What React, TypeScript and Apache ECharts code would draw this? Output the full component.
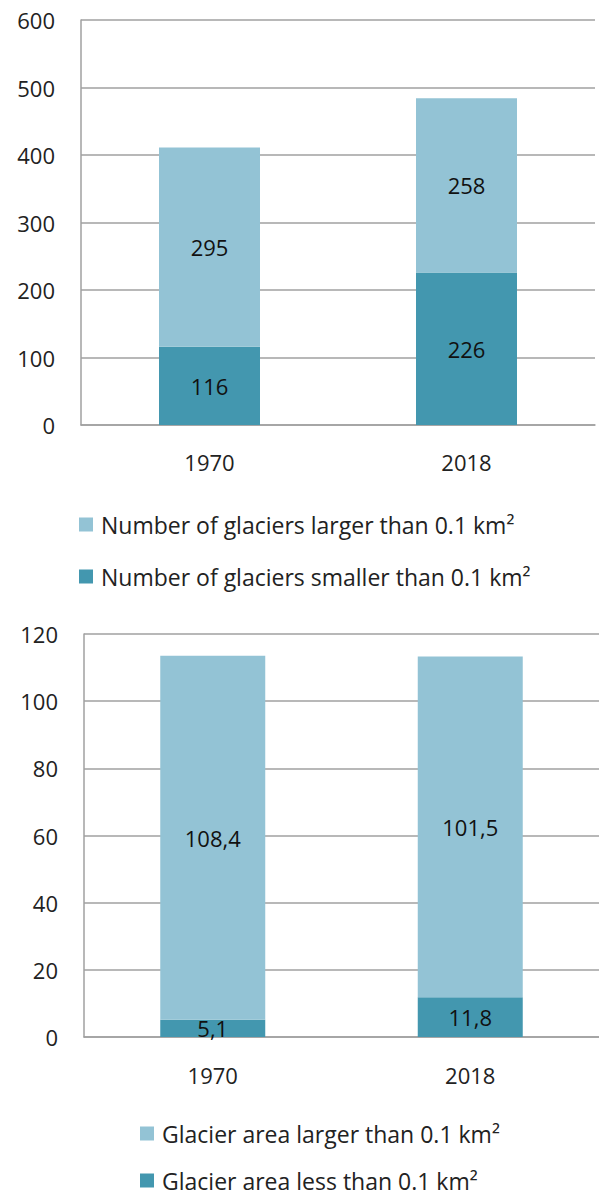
import React, { useEffect, useRef } from "react";
import * as echarts from "echarts";

const categories = ["1970", "2018"];
const countLarger = [295, 258];
const countSmaller = [116, 226];
const areaLarger = [108.4, 101.5];
const areaSmaller = [5.1, 11.8];
const countTicks = { min: 0, max: 600, interval: 100 };
const areaTicks = { min: 0, max: 120, interval: 20 };
const countNames = ["Number of glaciers larger than 0.1 km²", "Number of glaciers smaller than 0.1 km²"];
const areaNames = ["Glacier area larger than 0.1 km²", "Glacier area less than 0.1 km²"];

const LIGHT = "#93C3D5";
const DARK = "#4397AF";
const GRID = "#a0a0a0";
const FONT = "Open Sans";
const FS = 22;

const comma = (v: number) => String(v).replace(".", ",");

export default function App() {
  const ref = useRef<HTMLDivElement>(null);
  useEffect(() => {
    const chart = echarts.init(ref.current!, null, { renderer: "svg" });
    const labelStyle = {
      show: true,
      position: "inside" as const,
      color: "#111",
      fontFamily: FONT,
      fontSize: FS,
    };
    const axisLabel = { color: "#222", fontFamily: FONT, fontSize: FS };
    const legendItem = (name: string, left: number, top: number) => ({
      orient: "vertical",
      left,
      top,
      padding: 0,
      itemWidth: 14,
      itemHeight: 14,
      icon: "rect",
      data: [name],
      textStyle: { color: "#222", fontFamily: FONT, fontSize: 23, lineHeight: 22, padding: [0, 0, 0, 3] },
    });
    chart.setOption({
      animation: false,
      backgroundColor: "#fff",
      grid: [
        { left: 81, top: 20, width: 514, height: 405 },
        { left: 84, top: 634, width: 522, height: 403 },
      ],
      xAxis: [0, 1].map((i) => ({
        type: "category",
        gridIndex: i,
        data: categories,
        axisLine: { lineStyle: { color: GRID, width: 1.5 } },
        axisTick: { show: false },
        axisLabel: { ...axisLabel, margin: i === 0 ? 26 : 27 },
      })),
      yAxis: [
        { ...countTicks, gridIndex: 0 },
        { ...areaTicks, gridIndex: 1 },
      ].map((t) => ({
        type: "value",
        ...t,
        axisLine: { show: true, lineStyle: { color: GRID, width: 1.5 } },
        axisTick: { show: false },
        splitLine: { lineStyle: { color: GRID, width: 1.5 } },
        axisLabel: { ...axisLabel, margin: 26 },
      })),
      legend: [
        legendItem(countNames[0], 79, 513),
        legendItem(countNames[1], 79, 565),
        legendItem(areaNames[0], 140, 1122),
        legendItem(areaNames[1], 140, 1169),
      ],
      series: [
        {
          name: countNames[1],
          type: "bar",
          stack: "a",
          xAxisIndex: 0,
          yAxisIndex: 0,
          barWidth: 101,
          data: countSmaller,
          itemStyle: { color: DARK },
          label: labelStyle,
        },
        {
          name: countNames[0],
          type: "bar",
          stack: "a",
          xAxisIndex: 0,
          yAxisIndex: 0,
          barWidth: 101,
          data: countLarger,
          itemStyle: { color: LIGHT },
          label: labelStyle,
        },
        {
          name: areaNames[1],
          type: "bar",
          stack: "b",
          xAxisIndex: 1,
          yAxisIndex: 1,
          barWidth: 105,
          data: areaSmaller,
          itemStyle: { color: DARK },
          label: { ...labelStyle, formatter: (p: any) => comma(p.value) },
        },
        {
          name: areaNames[0],
          type: "bar",
          stack: "b",
          xAxisIndex: 1,
          yAxisIndex: 1,
          barWidth: 105,
          data: areaLarger,
          itemStyle: { color: LIGHT },
          label: { ...labelStyle, formatter: (p: any) => comma(p.value) },
        },
      ],
    });
    return () => chart.dispose();
  }, []);
  return (
    <div
      ref={ref}
      style={{ position: "absolute", left: 0, top: 0, width: 599, height: 1199, background: "#fff" }}
    />
  );
}
